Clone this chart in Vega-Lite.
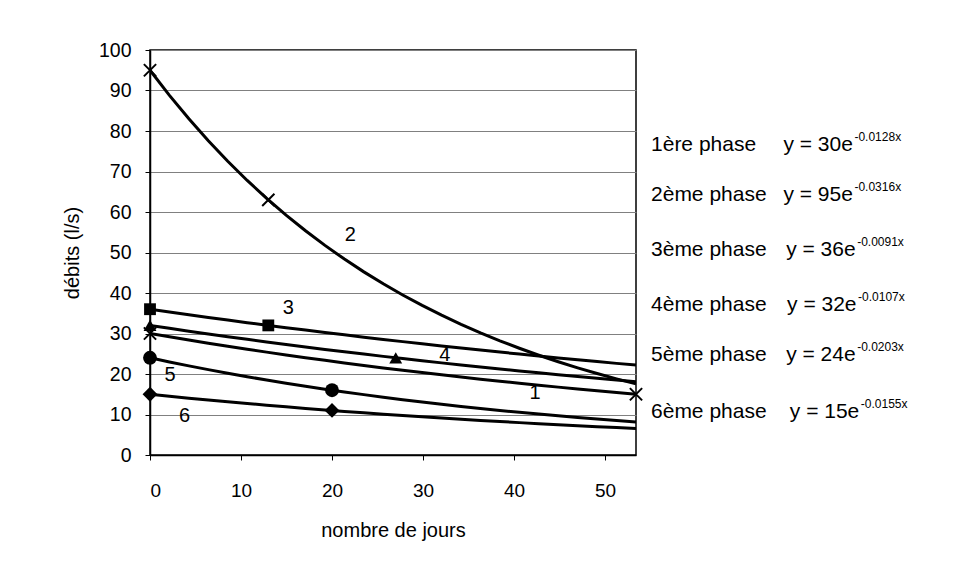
{
  "$schema": "https://vega.github.io/schema/vega-lite/v6.json",
  "width": 486,
  "height": 405,
  "autosize": {"type": "none"},
  "padding": {"left": 150, "top": 50, "right": 323, "bottom": 112},
  "background": "white",
  "config": {
    "font": "Liberation Sans",
    "view": {"stroke": "black", "strokeWidth": 1.5}
  },
  "datasets": {
    "pts": [
      {"serie": "1", "x": 0, "y": 30},
      {"serie": "1", "x": 53.4, "y": 15},
      {"serie": "2", "x": 0, "y": 95},
      {"serie": "2", "x": 13, "y": 63},
      {"serie": "3", "x": 0, "y": 36},
      {"serie": "3", "x": 13, "y": 32},
      {"serie": "4", "x": 0, "y": 32},
      {"serie": "4", "x": 27, "y": 24},
      {"serie": "5", "x": 0, "y": 24},
      {"serie": "5", "x": 20, "y": 16},
      {"serie": "6", "x": 0, "y": 15},
      {"serie": "6", "x": 20, "y": 11}
    ],
    "lbl": [
      {"t": "1", "x": 42.3, "y": 15.3},
      {"t": "2", "x": 22.0, "y": 54.3},
      {"t": "3", "x": 15.2, "y": 36.3},
      {"t": "4", "x": 32.4, "y": 24.7},
      {"t": "5", "x": 2.2, "y": 19.8},
      {"t": "6", "x": 3.8, "y": 9.6}
    ],
    "eq": [
      {"phase": "1ère phase", "px": 55.05, "eq": "y = 30e", "ex": 69.6, "sup": "-0.0128x", "y": 76.5},
      {"phase": "2ème phase", "px": 55.05, "eq": "y = 95e", "ex": 69.6, "sup": "-0.0316x", "y": 64.2},
      {"phase": "3ème phase", "px": 55.05, "eq": "y = 36e", "ex": 69.9, "sup": "-0.0091x", "y": 50.6},
      {"phase": "4ème phase", "px": 55.05, "eq": "y = 32e", "ex": 70.0, "sup": "-0.0107x", "y": 37.0},
      {"phase": "5ème phase", "px": 55.05, "eq": "y = 24e", "ex": 69.9, "sup": "-0.0203x", "y": 24.7},
      {"phase": "6ème phase", "px": 55.05, "eq": "y = 15e", "ex": 70.3, "sup": "-0.0155x", "y": 10.6}
    ]
  },
  "layer": [
    {
      "data": {"name": "pts"},
      "transform": [
        {"regression": "y", "on": "x", "groupby": ["serie"], "method": "exp", "extent": [0, 53.4]}
      ],
      "mark": {"type": "line", "color": "black", "strokeWidth": 3, "clip": true},
      "encoding": {
        "x": {
          "field": "x", "type": "quantitative",
          "scale": {"domain": [0, 53.4], "nice": false, "zero": false},
          "axis": {
            "values": [0, 10, 20, 30, 40, 50],
            "title": "nombre de jours",
            "titleFontSize": 20, "titleFontWeight": "normal", "titleColor": "black", "titlePadding": 20,
            "labelFontSize": 19, "labelColor": "black", "labelPadding": 21,
            "tickColor": "black", "tickSize": 5, "domainColor": "black", "domainWidth": 1.5,
            "grid": false
          }
        },
        "y": {
          "field": "y", "type": "quantitative",
          "scale": {"domain": [0, 100], "nice": false},
          "axis": {
            "values": [0, 10, 20, 30, 40, 50, 60, 70, 80, 90, 100],
            "title": "débits (l/s)",
            "titleFontSize": 20, "titleFontWeight": "normal", "titleColor": "black", "titlePadding": 16,
            "labelFontSize": 19.5, "labelColor": "black", "labelPadding": 14,
            "tickColor": "black", "tickSize": 5, "domainColor": "black", "domainWidth": 1.5,
            "grid": true, "gridColor": "#808080", "gridWidth": 1
          }
        },
        "detail": {"field": "serie"}
      }
    },
    {
      "data": {"name": "pts"},
      "transform": [{"filter": "datum.serie != '1' && datum.serie != '2'"}],
      "mark": {"type": "point", "filled": true, "color": "black", "opacity": 1},
      "encoding": {
        "x": {"field": "x", "type": "quantitative"},
        "y": {"field": "y", "type": "quantitative"},
        "shape": {
          "field": "serie", "type": "nominal",
          "scale": {"domain": ["3", "4", "5", "6"], "range": ["square", "triangle-up", "circle", "diamond"]},
          "legend": null
        },
        "size": {
          "field": "serie", "type": "nominal",
          "scale": {"domain": ["3", "4", "5", "6"], "range": [140, 220, 130, 110]},
          "legend": null
        }
      }
    },
    {
      "data": {"name": "pts"},
      "transform": [{"filter": "datum.serie == '1' || datum.serie == '2'"}],
      "mark": {"type": "point", "filled": false, "color": "black", "opacity": 1, "size": 150, "strokeWidth": 2, "shape": "M-1,-1L1,1M-1,1L1,-1"},
      "encoding": {
        "x": {"field": "x", "type": "quantitative"},
        "y": {"field": "y", "type": "quantitative"}
      }
    },
    {
      "data": {"name": "lbl"},
      "mark": {"type": "text", "fontSize": 20, "color": "black", "align": "center", "baseline": "middle"},
      "encoding": {
        "x": {"field": "x", "type": "quantitative"},
        "y": {"field": "y", "type": "quantitative"},
        "text": {"field": "t"}
      }
    },
    {
      "data": {"name": "eq"},
      "mark": {"type": "text", "fontSize": 21, "color": "black", "align": "left", "baseline": "middle"},
      "encoding": {
        "x": {"field": "px", "type": "quantitative"},
        "y": {"field": "y", "type": "quantitative"},
        "text": {"field": "phase"}
      }
    },
    {
      "data": {"name": "eq"},
      "mark": {"type": "text", "fontSize": 21, "color": "black", "align": "left", "baseline": "middle"},
      "encoding": {
        "x": {"field": "ex", "type": "quantitative"},
        "y": {"field": "y", "type": "quantitative"},
        "text": {"field": "eq"}
      }
    },
    {
      "data": {"name": "eq"},
      "mark": {"type": "text", "fontSize": 12, "color": "black", "align": "left", "baseline": "middle", "dx": 71, "dy": -8},
      "encoding": {
        "x": {"field": "ex", "type": "quantitative"},
        "y": {"field": "y", "type": "quantitative"},
        "text": {"field": "sup"}
      }
    }
  ]
}
